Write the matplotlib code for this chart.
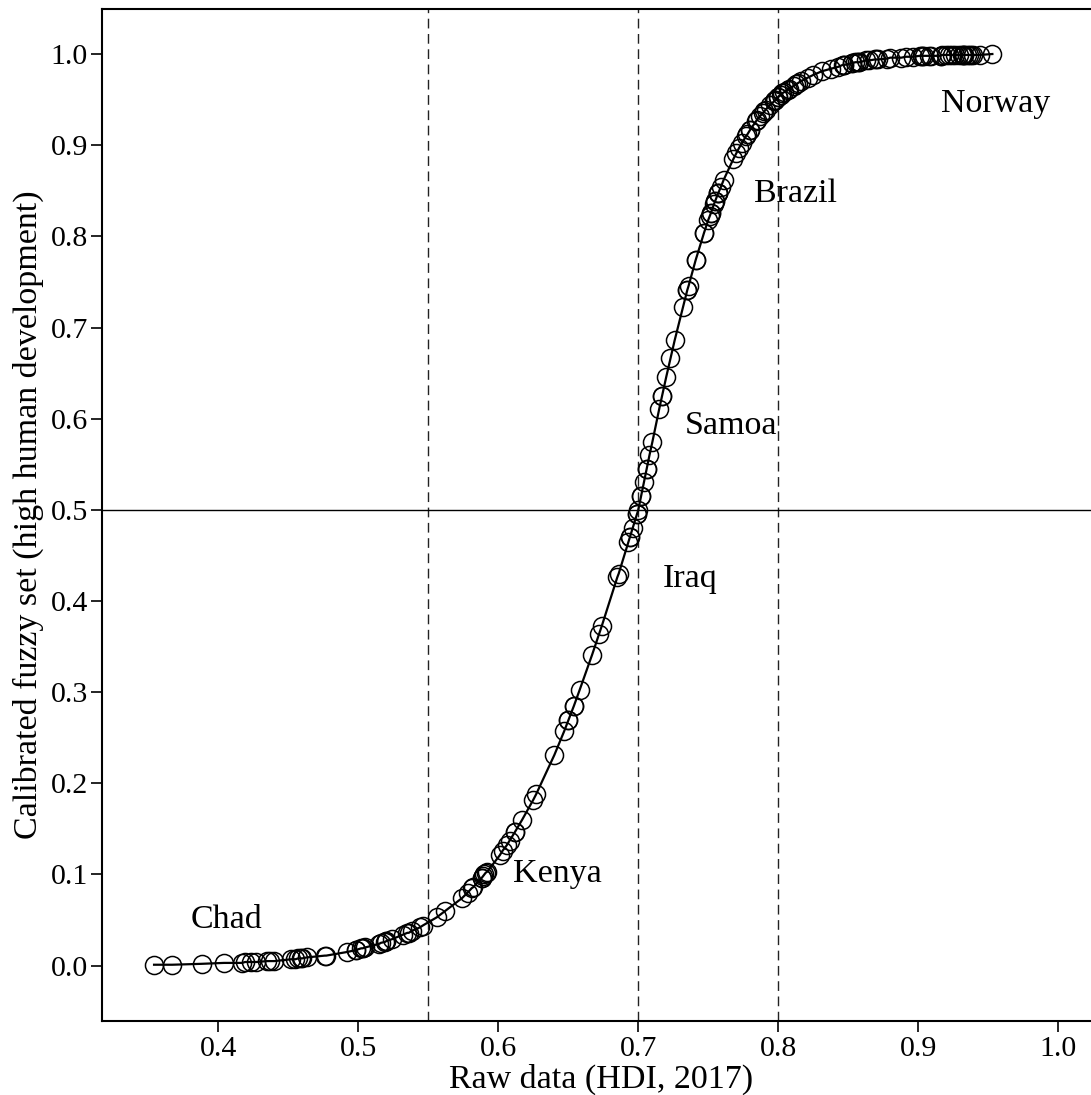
import matplotlib
matplotlib.use('Agg')
import matplotlib.pyplot as plt

plt.rcParams['font.family'] = ['Liberation Serif', 'DejaVu Serif']

# raw HDI 2017 values (sorted) and calibrated membership
hdi = [0.354, 0.367, 0.388, 0.404, 0.417, 0.419, 0.423, 0.427, 0.435, 0.437,
       0.440, 0.452, 0.455, 0.457, 0.459, 0.460, 0.463, 0.476, 0.477, 0.492,
       0.498, 0.498, 0.502, 0.503, 0.503, 0.505, 0.515, 0.516, 0.519, 0.520,
       0.520, 0.524, 0.532, 0.535, 0.536, 0.538, 0.544, 0.546, 0.556, 0.562,
       0.574, 0.578, 0.581, 0.582, 0.588, 0.588, 0.589, 0.590, 0.591, 0.592,
       0.601, 0.603, 0.606, 0.608, 0.612, 0.612, 0.617, 0.625, 0.627, 0.640,
       0.647, 0.650, 0.650, 0.654, 0.654, 0.658, 0.667, 0.672, 0.674, 0.685,
       0.686, 0.693, 0.694, 0.694, 0.696, 0.699, 0.699, 0.700, 0.702, 0.702,
       0.704, 0.706, 0.706, 0.708, 0.710, 0.715, 0.717, 0.717, 0.720, 0.723,
       0.726, 0.732, 0.735, 0.735, 0.736, 0.741, 0.741, 0.747, 0.747, 0.750,
       0.751, 0.752, 0.752, 0.754, 0.755, 0.755, 0.757, 0.757, 0.757, 0.759,
       0.761, 0.768, 0.770, 0.772, 0.774, 0.777, 0.778, 0.780, 0.780, 0.784,
       0.785, 0.787, 0.789, 0.790, 0.791, 0.794, 0.797, 0.798, 0.798, 0.800,
       0.800, 0.802, 0.803, 0.804, 0.807, 0.808, 0.811, 0.813, 0.814, 0.816,
       0.821, 0.825, 0.831, 0.838, 0.843, 0.846, 0.847, 0.847, 0.853, 0.853,
       0.855, 0.856, 0.858, 0.858, 0.863, 0.865, 0.869, 0.870, 0.871, 0.878,
       0.880, 0.888, 0.891, 0.896, 0.901, 0.903, 0.903, 0.904, 0.908, 0.909,
       0.916, 0.916, 0.917, 0.920, 0.922, 0.924, 0.926, 0.929, 0.931, 0.932,
       0.933, 0.933, 0.935, 0.936, 0.938, 0.939, 0.944, 0.953]

fuzzy = [0.001, 0.001, 0.002, 0.003, 0.003, 0.004, 0.004, 0.004, 0.005, 0.005,
         0.005, 0.007, 0.007, 0.008, 0.008, 0.008, 0.009, 0.011, 0.011, 0.015,
         0.017, 0.017, 0.019, 0.019, 0.019, 0.020, 0.024, 0.025, 0.026, 0.027,
         0.027, 0.029, 0.034, 0.036, 0.036, 0.038, 0.042, 0.044, 0.053, 0.060,
         0.074, 0.080, 0.085, 0.086, 0.096, 0.096, 0.098, 0.100, 0.102, 0.103,
         0.121, 0.126, 0.132, 0.137, 0.147, 0.147, 0.160, 0.182, 0.188, 0.231,
         0.257, 0.269, 0.269, 0.285, 0.285, 0.302, 0.341, 0.364, 0.373, 0.426,
         0.430, 0.465, 0.470, 0.470, 0.480, 0.495, 0.495, 0.500, 0.515, 0.515,
         0.530, 0.545, 0.545, 0.560, 0.574, 0.611, 0.625, 0.625, 0.646, 0.666,
         0.686, 0.723, 0.741, 0.741, 0.746, 0.774, 0.774, 0.804, 0.804, 0.818,
         0.822, 0.826, 0.826, 0.835, 0.839, 0.839, 0.847, 0.847, 0.847, 0.854,
         0.862, 0.885, 0.891, 0.897, 0.902, 0.910, 0.912, 0.917, 0.917, 0.926,
         0.928, 0.932, 0.935, 0.937, 0.939, 0.944, 0.948, 0.950, 0.950, 0.953,
         0.953, 0.955, 0.957, 0.958, 0.961, 0.962, 0.965, 0.967, 0.968, 0.970,
         0.974, 0.977, 0.981, 0.984, 0.986, 0.988, 0.988, 0.988, 0.990, 0.990,
         0.991, 0.991, 0.991, 0.991, 0.993, 0.993, 0.994, 0.994, 0.994, 0.995,
         0.996, 0.996, 0.997, 0.997, 0.998, 0.998, 0.998, 0.998, 0.998, 0.998,
         0.998, 0.998, 0.999, 0.999, 0.999, 0.999, 0.999, 0.999, 0.999, 0.999,
         0.999, 0.999, 0.999, 0.999, 0.999, 0.999, 0.999, 1.000]

# labelled countries: name, label x (centre), label y (baseline)
label_names = ['Chad', 'Kenya', 'Iraq', 'Samoa', 'Brazil', 'Norway']
label_x = [0.406, 0.642, 0.737, 0.766, 0.812, 0.955]
label_y = [0.041, 0.092, 0.415, 0.583, 0.838, 0.936]

thresholds = [0.55, 0.70, 0.80]
crossover_y = 0.5

x_ticks = [0.4, 0.5, 0.6, 0.7, 0.8, 0.9, 1.0]
y_ticks = [0.0, 0.1, 0.2, 0.3, 0.4, 0.5, 0.6, 0.7, 0.8, 0.9, 1.0]

fig = plt.figure(figsize=(10.91, 10.95), dpi=100)
# plot region runs past the right edge of the image, as in the original
ax = fig.add_axes([0.0935, 0.0676, 0.9155, 0.9242])

for t in thresholds:
    ax.axvline(t, color='#222222', lw=1.0, dashes=(7, 4))
ax.axhline(crossover_y, color='black', lw=1.0)

ax.plot(hdi, fuzzy, color='black', lw=1.6, zorder=3)
ax.plot(hdi, fuzzy, linestyle='none', marker='o', ms=13, mfc='none',
        mec='black', mew=1.1, zorder=4)

for name, lx, ly in zip(label_names, label_x, label_y):
    ax.text(lx, ly, name, fontsize=24.5, ha='center', va='baseline')

ax.set_xlim(0.3168, 1.0305)
ax.set_ylim(-0.0607, 1.0494)
ax.set_xticks(x_ticks)
ax.set_xticklabels(['%.1f' % v for v in x_ticks])
ax.set_yticks(y_ticks)
ax.set_yticklabels(['%.1f' % v for v in y_ticks])
ax.tick_params(labelsize=21.5, length=8, width=1.2, direction='out')
ax.tick_params(axis='y', pad=2)
ax.tick_params(axis='x', pad=3)
for s in ax.spines.values():
    s.set_linewidth(1.5)

ax.set_xlabel('Raw data (HDI, 2017)', fontsize=24.5, labelpad=1)
ax.set_ylabel('Calibrated fuzzy set (high human development)', fontsize=24.5,
              labelpad=5)

fig.savefig('out.png', dpi=100)
